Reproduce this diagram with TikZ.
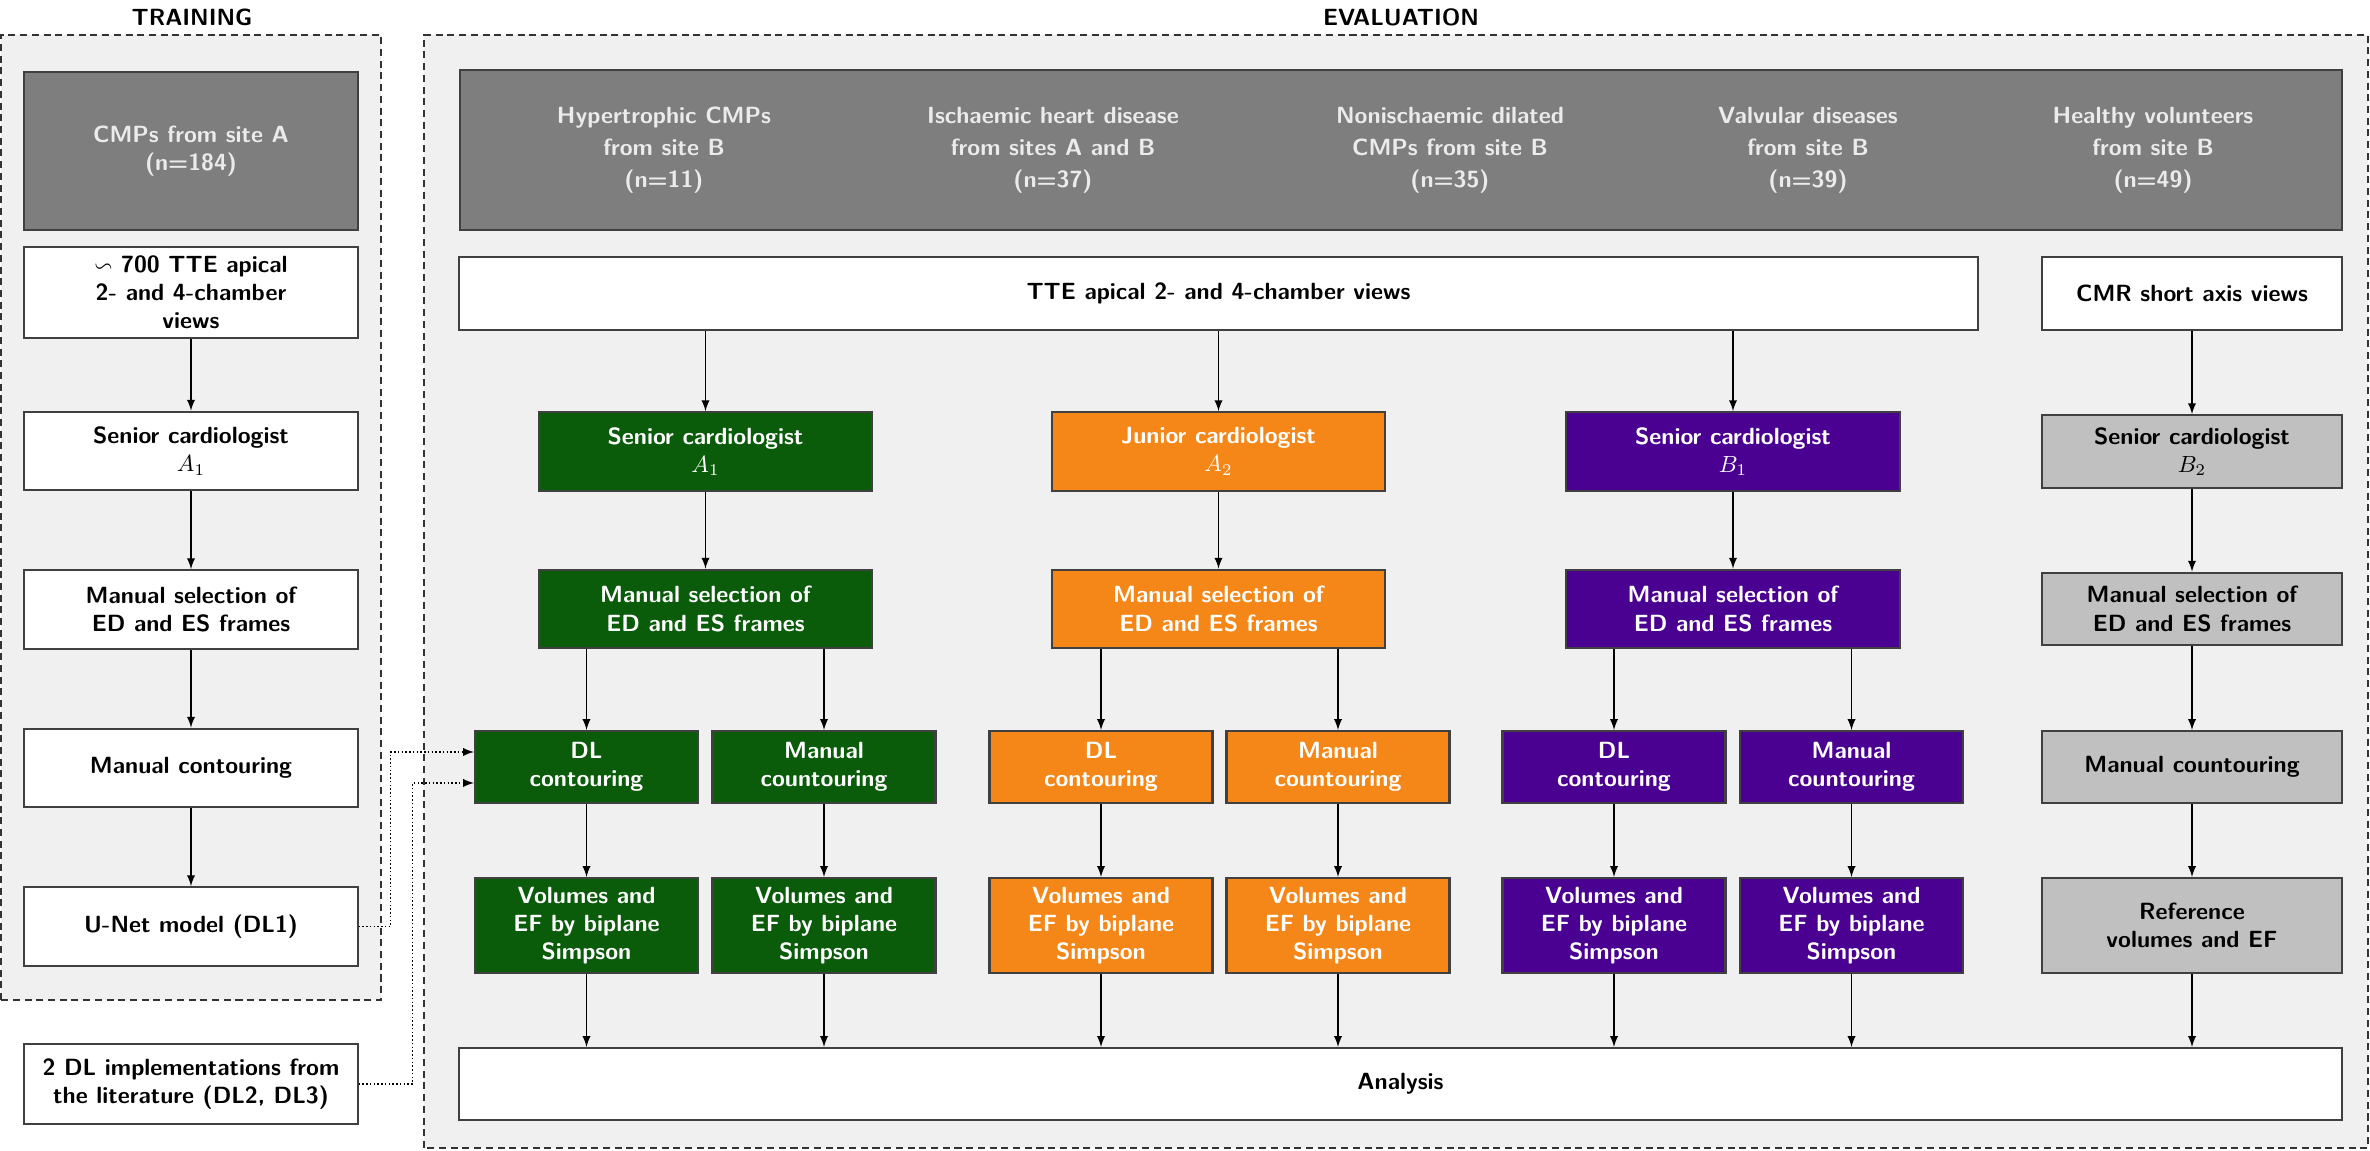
\documentclass[tikz,border=0pt]{standalone}
\usepackage{amsmath, amssymb}
\usepackage{tikz}
\usetikzlibrary{arrows}

\definecolor{grnbox}{RGB}{10,92,10}
\definecolor{orgbox}{RGB}{245,135,25}
\definecolor{prpbox}{RGB}{74,0,145}
\definecolor{hdrgray}{RGB}{126,126,126}
\definecolor{ltgray}{RGB}{192,192,192}
\definecolor{bggray}{RGB}{240,240,240}

\begin{document}
\begin{tikzpicture}[
  > = latex,
  font = \sffamily\bfseries,
  box/.style = {draw=black!75, line width=0.9pt, align=center, inner sep=0pt, minimum height=1.18cm},
  wbox/.style = {box, fill=white},
  hbox/.style = {box, fill=hdrgray, text=black!8},
  gbox/.style = {box, fill=grnbox, text=white},
  obox/.style = {box, fill=orgbox, text=white},
  pbox/.style = {box, fill=prpbox, text=white},
  lbox/.style = {box, fill=ltgray},
  wide/.style = {minimum width=5cm},
  half/.style = {minimum width=3.345cm},
  side/.style = {minimum width=4.5cm},
  flow/.style = {->, line width=0.6pt},
  dotflow/.style = {->, densely dotted, line width=0.6pt},
  panel/.style = {draw=black!80, dash pattern=on 3pt off 2pt, line width=1.1pt, fill=bggray}
  ]
	\useasboundingbox (0,0) rectangle (35.55,17.265);

	% the two panels
	\draw[panel] (0.015,2.265) rectangle (5.715,16.74);
	\draw[panel] (6.36,0.045) rectangle (35.52,16.74);
	\node (trainlbl) at (2.88,17.01) {TRAINING};
	\node (evallbl) at (21.015,17.01) {EVALUATION};

	% training
	\node[hbox, wide, minimum height=2.37cm] (siteA) at (2.865,15.0) {CMPs from site A\\(n=184)};
	\node[wbox, wide, minimum height=1.365cm] (tteT) at (2.865,12.8775) {$\backsim$ 700 TTE apical\\2- and 4-chamber\\views};
	\node[wbox, wide] (seniorT) at (2.865,10.5) {Senior cardiologist\\$A_1$};
	\node[wbox, wide] (selT) at (2.865,8.1225) {Manual selection of\\ED and ES frames};
	\node[wbox, wide] (contT) at (2.865,5.745) {Manual contouring};
	\node[wbox, wide] (unet) at (2.865,3.3675) {U-Net model (DL1)};
	\node[wbox, wide, minimum height=1.2cm] (litDL) at (2.865,1.005) {2 DL implementations from\\the literature (DL2, DL3)};

	\draw[flow] (tteT) -- (seniorT);
	\draw[flow] (seniorT) -- (selT);
	\draw[flow] (selT) -- (contT);
	\draw[flow] (contT) -- (unet);

	% evaluation: cohorts and views
	\node[hbox, minimum width=28.23cm, minimum height=2.4cm] (cohorts) at (21.015,15.015) {};
	\node[text=black!8, align=center] (hcm) at (9.96,15.015) {Hypertrophic CMPs\\[1.7pt]from site B\\[1.7pt](n=11)};
	\node[text=black!8, align=center] (ihd) at (15.795,15.015) {Ischaemic heart disease\\[1.7pt]from sites A and B\\[1.7pt](n=37)};
	\node[text=black!8, align=center] (dcm) at (21.75,15.015) {Nonischaemic dilated\\[1.7pt]CMPs from site B\\[1.7pt](n=35)};
	\node[text=black!8, align=center] (valv) at (27.12,15.015) {Valvular diseases\\[1.7pt]from site B\\[1.7pt](n=39)};
	\node[text=black!8, align=center] (hv) at (32.295,15.015) {Healthy volunteers\\[1.7pt]from site B\\[1.7pt](n=49)};

	\node[wbox, minimum width=22.785cm, minimum height=1.095cm] (tteE) at (18.2775,12.8625) {TTE apical 2- and 4-chamber views};
	\node[wbox, side, minimum height=1.095cm] (cmr) at (32.88,12.8625) {CMR short axis views};

	% readers
	\node[gbox, wide] (cardA1) at (10.5825,10.4925) {Senior cardiologist\\$A_1$};
	\node[obox, wide] (cardA2) at (18.2775,10.4925) {Junior cardiologist\\$A_2$};
	\node[pbox, wide] (cardB1) at (25.995,10.4925) {Senior cardiologist\\$B_1$};
	\node[lbox, side, minimum height=1.09cm] (cardB2) at (32.88,10.4925) {Senior cardiologist\\$B_2$};

	\node[gbox, wide] (selA1) at (10.5825,8.13) {Manual selection of\\ED and ES frames};
	\node[obox, wide] (selA2) at (18.2775,8.13) {Manual selection of\\ED and ES frames};
	\node[pbox, wide] (selB1) at (25.995,8.13) {Manual selection of\\ED and ES frames};
	\node[lbox, side, minimum height=1.09cm] (selB2) at (32.88,8.13) {Manual selection of\\ED and ES frames};

	\node[gbox, half, minimum height=1.08cm] (dlA1) at (8.7975,5.76) {DL\\contouring};
	\node[gbox, half, minimum height=1.08cm] (manA1) at (12.36,5.76) {Manual\\countouring};
	\node[obox, half, minimum height=1.08cm] (dlA2) at (16.515,5.76) {DL\\contouring};
	\node[obox, half, minimum height=1.08cm] (manA2) at (20.07,5.76) {Manual\\countouring};
	\node[pbox, half, minimum height=1.08cm] (dlB1) at (24.21,5.76) {DL\\contouring};
	\node[pbox, half, minimum height=1.08cm] (manB1) at (27.7725,5.76) {Manual\\countouring};
	\node[lbox, side, minimum height=1.08cm] (manB2) at (32.88,5.76) {Manual countouring};

	\node[gbox, half, minimum height=1.425cm] (volDA1) at (8.7975,3.3825) {Volumes and\\EF by biplane\\Simpson};
	\node[gbox, half, minimum height=1.425cm] (volMA1) at (12.36,3.3825) {Volumes and\\EF by biplane\\Simpson};
	\node[obox, half, minimum height=1.425cm] (volDA2) at (16.515,3.3825) {Volumes and\\EF by biplane\\Simpson};
	\node[obox, half, minimum height=1.425cm] (volMA2) at (20.07,3.3825) {Volumes and\\EF by biplane\\Simpson};
	\node[pbox, half, minimum height=1.425cm] (volDB1) at (24.21,3.3825) {Volumes and\\EF by biplane\\Simpson};
	\node[pbox, half, minimum height=1.425cm] (volMB1) at (27.7725,3.3825) {Volumes and\\EF by biplane\\Simpson};
	\node[lbox, side, minimum height=1.425cm] (refB2) at (32.88,3.3825) {Reference\\volumes and EF};

	\node[wbox, minimum width=28.245cm, minimum height=1.08cm] (analysis) at (21.0075,1.005) {Analysis};

	% connectors
	\draw[flow] (tteE.south -| cardA1.north) -- (cardA1.north);
	\draw[flow] (tteE.south -| cardA2.north) -- (cardA2.north);
	\draw[flow] (tteE.south -| cardB1.north) -- (cardB1.north);
	\draw[flow] (cmr) -- (cardB2);

	\draw[flow] (cardA1) -- (selA1);
	\draw[flow] (cardA2) -- (selA2);
	\draw[flow] (cardB1) -- (selB1);
	\draw[flow] (cardB2) -- (selB2);

	\draw[flow] (selA1.south -| dlA1.north) -- (dlA1.north);
	\draw[flow] (selA1.south -| manA1.north) -- (manA1.north);
	\draw[flow] (selA2.south -| dlA2.north) -- (dlA2.north);
	\draw[flow] (selA2.south -| manA2.north) -- (manA2.north);
	\draw[flow] (selB1.south -| dlB1.north) -- (dlB1.north);
	\draw[flow] (selB1.south -| manB1.north) -- (manB1.north);
	\draw[flow] (selB2) -- (manB2);

	\draw[flow] (dlA1) -- (volDA1);
	\draw[flow] (manA1) -- (volMA1);
	\draw[flow] (dlA2) -- (volDA2);
	\draw[flow] (manA2) -- (volMA2);
	\draw[flow] (dlB1) -- (volDB1);
	\draw[flow] (manB1) -- (volMB1);
	\draw[flow] (manB2) -- (refB2);

	\draw[flow] (volDA1.south) -- (volDA1.south |- analysis.north);
	\draw[flow] (volMA1.south) -- (volMA1.south |- analysis.north);
	\draw[flow] (volDA2.south) -- (volDA2.south |- analysis.north);
	\draw[flow] (volMA2.south) -- (volMA2.south |- analysis.north);
	\draw[flow] (volDB1.south) -- (volDB1.south |- analysis.north);
	\draw[flow] (volMB1.south) -- (volMB1.south |- analysis.north);
	\draw[flow] (refB2.south) -- (refB2.south |- analysis.north);

	% trained models feed the DL contouring
	\draw[dotflow] (unet.east) -- ++(0.48,0) |- ([yshift=0.225cm]dlA1.west);
	\draw[dotflow] (litDL.east) -- ++(0.81,0) |- ([yshift=-0.24cm]dlA1.west);

\end{tikzpicture}
\end{document}
